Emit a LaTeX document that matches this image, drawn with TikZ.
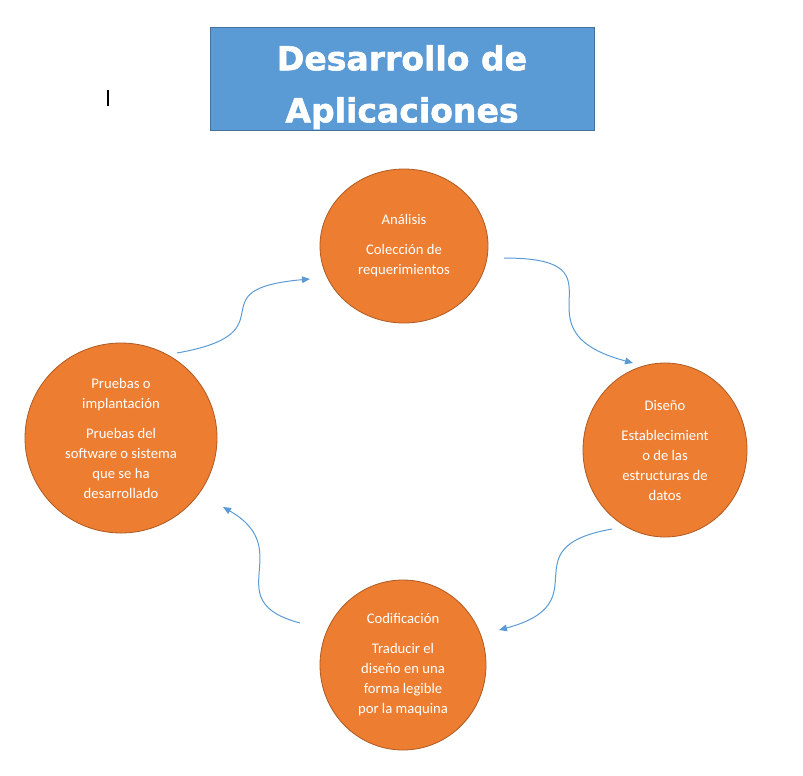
\documentclass[tikz,border=0pt]{standalone}
\usepackage{fontspec}
\setmainfont{Carlito}
\newfontfamily\titlefont{DejaVu Sans}[BoldFeatures={FakeBold=1.6}]
\usetikzlibrary{shapes.geometric,arrows.meta}
\definecolor{phasefill}{HTML}{ED7D31}
\definecolor{phaseline}{HTML}{AE5A21}
\definecolor{titlefill}{HTML}{5B9BD5}
\definecolor{titleline}{HTML}{41719C}

\begin{document}
\begin{tikzpicture}[x=0.75pt,y=-0.75pt,
    phase/.style={ellipse, draw=phaseline, fill=phasefill, line width=0.6pt, inner sep=0pt,
        text=white, align=center, font=\fontsize{11}{15}\selectfont},
    flow/.style={draw=titlefill, line width=0.75pt, -{Triangle[length=6pt,width=5pt]}},
    ]
    \useasboundingbox (0,0) rectangle (803,775);

    \node (title) [draw=titleline, fill=titlefill, line width=0.6pt, minimum width=288pt, minimum height=77.25pt]
        at (402,78.5) {};
    \node (title-text) [text=white, align=center, font=\titlefont\bfseries\fontsize{24.8}{39}\selectfont]
        at ([yshift=-6.5pt]title.center) {Desarrollo de\\Aplicaciones};
    \draw[line width=0.8pt] (108,90) -- (108,106); % cursor

    % the four phases
    \node (ana) [phase, minimum width=126pt, minimum height=115.5pt] at (404,246)
        {Análisis\\[7.5pt]Colección de\\requerimientos};
    \node (dis) [phase, minimum width=123pt, minimum height=130.5pt] at (665,450)
        {Diseño\\[7.5pt]Establecimient\\o de las\\estructuras de\\datos};
    \node (cod) [phase, minimum width=124.5pt, minimum height=127.5pt] at (403,665)
        {Codificación\\[7.5pt]Traducir el\\diseño en una\\forma legible\\por la maquina};
    \node (pru) [phase, minimum width=144pt, minimum height=142.5pt] at (121,438)
        {Pruebas o\\implantación\\[7.5pt]Pruebas del\\software o sistema\\que se ha\\desarrollado};

    % ends of the curved connectors
    \coordinate (pru-out) at (177,353);
    \coordinate (ana-in) at (310,279);
    \coordinate (ana-out) at (504,258);
    \coordinate (dis-in) at (633,363);
    \coordinate (dis-out) at (612,529);
    \coordinate (cod-in) at (499,630);
    \coordinate (cod-out) at (300,623);
    \coordinate (pru-in) at (223,507);

    \draw[flow] (pru-out) to[out=10,in=185,looseness=2] (ana-in);
    \draw[flow] (ana-out) to[out=0,in=165,looseness=2] (dis-in);
    \draw[flow] (dis-out) to[out=190,in=15,looseness=1.8] (cod-in);
    \draw[flow] (cod-out) to[out=165,in=-30,looseness=1.6] (pru-in);
\end{tikzpicture}
\end{document}
